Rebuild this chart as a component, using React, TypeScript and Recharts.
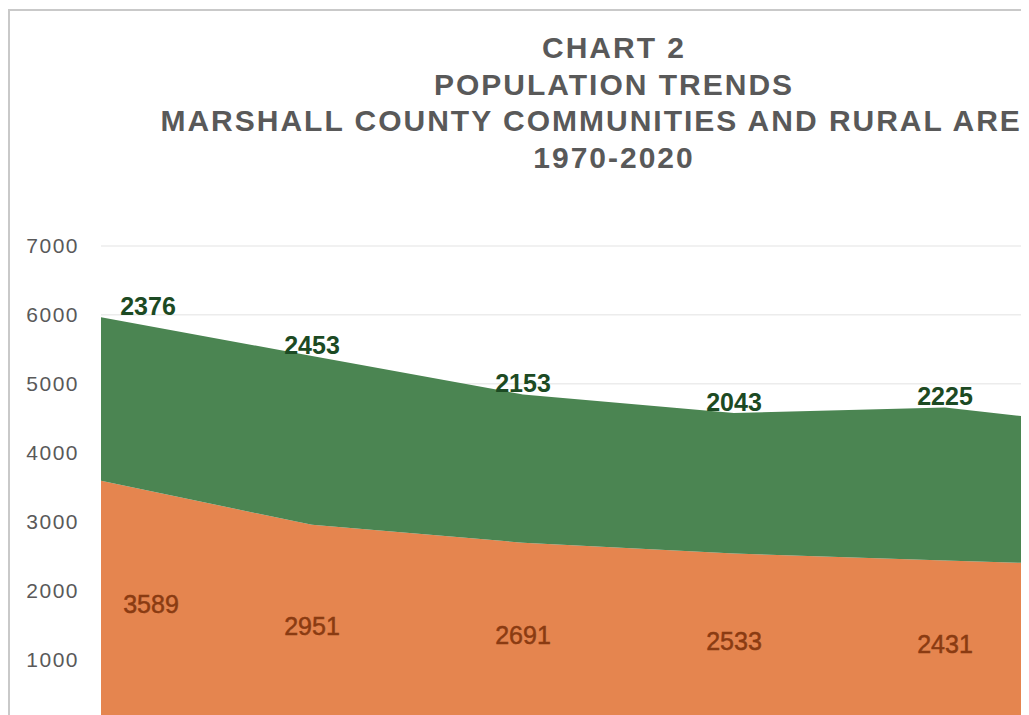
import React from 'react';
import { Area, AreaChart, CartesianGrid, LabelList, XAxis, YAxis } from 'recharts';

const years = ['1970', '1980', '1990', '2000', '2010', '2020'];
const lowerValues = [3589, 2951, 2691, 2533, 2431, 2340];
const upperValues = [2376, 2453, 2153, 2043, 2225, 1966];
const yTicks = [0, 1000, 2000, 3000, 4000, 5000, 6000, 7000];
const titleLines = [
  'CHART 2',
  'POPULATION TRENDS',
  'MARSHALL COUNTY COMMUNITIES AND RURAL AREAS',
  '1970-2020',
];

const data = years.map((year, i) => ({
  year,
  lower: lowerValues[i],
  upper: upperValues[i],
}));

const FONT = '"Liberation Sans", Arial, Helvetica, sans-serif';
const CHART_W = 1208;
const CHART_H = 817;
const MARGIN = { top: 235, right: 62, left: 0, bottom: 60 };
const PLOT_BOTTOM = 717;

const renderUpperLabel = (props: any) => {
  const { x, y, index } = props;
  const dx = index === 0 ? 47 : 0;
  return (
    <text
      x={x + dx}
      y={y - 11}
      textAnchor="middle"
      dominantBaseline="central"
      fontFamily={FONT}
      fontSize={25}
      fontWeight={700}
      fill="#1c4a23"
    >
      {upperValues[index]}
    </text>
  );
};

const renderLowerLabel = (props: any) => {
  const { x, y, index } = props;
  const dx = index === 0 ? 50 : 0;
  return (
    <text
      x={x + dx}
      y={(y + PLOT_BOTTOM) / 2}
      textAnchor="middle"
      dominantBaseline="central"
      fontFamily={FONT}
      fontSize={25}
      fill="#8a3b12"
      stroke="#8a3b12"
      strokeWidth={0.5}
    >
      {lowerValues[index]}
    </text>
  );
};

export default function App() {
  return (
    <div style={{ width: 1021, height: 707, overflow: 'hidden', position: 'relative' }}>
      <div
        style={{
          position: 'absolute',
          left: 0,
          top: 1,
          width: CHART_W + 4,
          height: CHART_H + 4,
          border: '2px solid #c9c9c9',
          boxSizing: 'border-box',
          background: '#fff',
        }}
      >
        <div
          style={{
            position: 'absolute',
            left: 0,
            top: 19,
            width: CHART_W,
            textAlign: 'center',
            fontFamily: FONT,
            fontWeight: 700,
            fontSize: 30,
            lineHeight: '36.7px',
            letterSpacing: 2,
            color: '#595959',
            whiteSpace: 'nowrap',
          }}
        >
          {titleLines.map((line) => (
            <div key={line}>{line}</div>
          ))}
        </div>
        <AreaChart width={CHART_W} height={CHART_H} data={data} margin={MARGIN}>
          <CartesianGrid vertical={false} stroke="#ececec" strokeWidth={1.5} />
          <XAxis
            dataKey="year"
            height={40}
            axisLine={false}
            tickLine={false}
            tick={false}
          />
          <YAxis
            width={91}
            domain={[0, 7000]}
            ticks={yTicks}
            axisLine={false}
            tickLine={false}
            tickSize={0}
            tickMargin={22}
            tick={{ fontSize: 21, fill: '#595959', fontFamily: FONT, letterSpacing: 1.5 }}
          />
          <Area
            type="linear"
            dataKey="lower"
            name="Rural Areas"
            stackId="pop"
            stroke="none"
            fill="#e5854f"
            fillOpacity={1}
            isAnimationActive={false}
          >
            <LabelList dataKey="lower" content={renderLowerLabel} />
          </Area>
          <Area
            type="linear"
            dataKey="upper"
            name="Communities"
            stackId="pop"
            stroke="none"
            fill="#4b8552"
            fillOpacity={1}
            isAnimationActive={false}
          >
            <LabelList dataKey="upper" content={renderUpperLabel} />
          </Area>
        </AreaChart>
      </div>
    </div>
  );
}
